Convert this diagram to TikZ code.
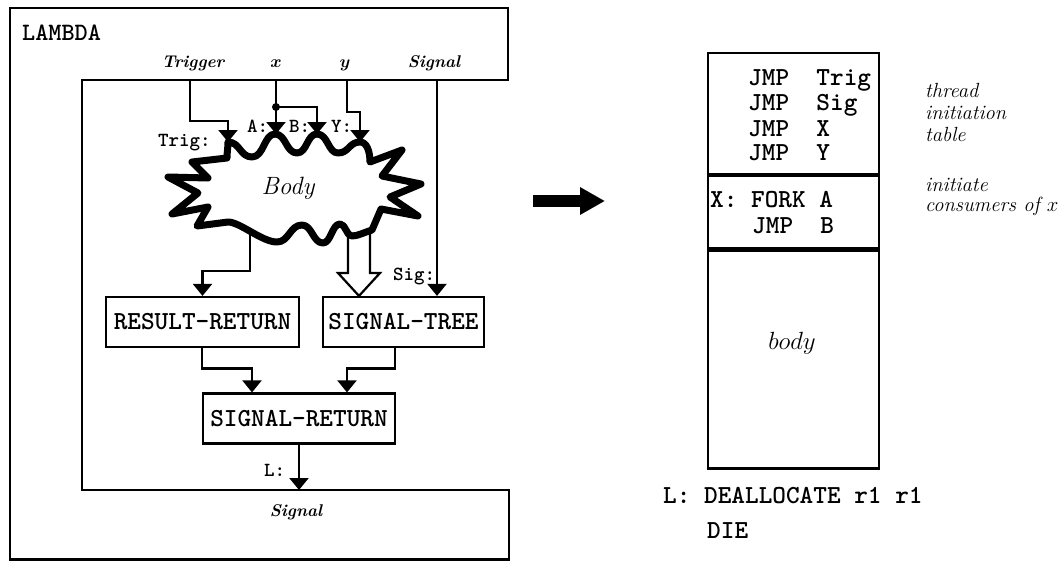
\documentclass[tikz,border=0pt]{standalone}
\usepackage{amsmath}
\usetikzlibrary{arrows.meta,calc}
\tikzset{
  wire/.style={line width=2.2pt},
  arr/.style={wire,-{Triangle[length=12pt,width=19pt]}},
  blk/.style={draw,line width=2.2pt,inner sep=0pt},
  box/.style={blk,minimum width=#1,minimum height=50pt,font=\fontsize{26}{28}\selectfont\ttfamily\bfseries},
  lbl/.style={font=\fontsize{20}{21}\selectfont\ttfamily\bfseries,inner sep=0pt,anchor=base west},
  port/.style={font=\fontsize{17}{19}\selectfont\bfseries\itshape,inner sep=0pt,anchor=base},
  note/.style={font=\fontsize{20.5}{22}\selectfont\itshape,inner sep=0pt,anchor=base west},
  code/.style={font=\fontsize{26}{26}\selectfont\ttfamily\bfseries,inner sep=0pt,anchor=base west},
}
\begin{document}
\begin{tikzpicture}[x=1pt,y=-1pt]
\useasboundingbox (0,0) rectangle (1063,560);
% LAMBDA frame
\draw[line width=2.2pt] (10,8) -- (508,8) -- (508,80) -- (82,80) -- (82,490) -- (509,490) -- (509,559.5) -- (10,559.5) -- cycle;
\node[font=\fontsize{25}{27}\selectfont\ttfamily\bfseries,inner sep=0pt,anchor=base west] (lambda) at (22,40) {LAMBDA};
\node[port] (ptrig) at (193,67) {Trigger};
\node[port] (px) at (276,67) {$\boldsymbol{x}$};
\node[port] (py) at (345,67) {$\boldsymbol{y}$};
\node[port] (psig) at (434,67) {Signal};
\node[port] (psigout) at (296,516) {Signal};
% named points
\coordinate (trigsrc) at (190,80);
\coordinate (xsrc) at (276,80);
\coordinate (ysrc) at (347,80);
\coordinate (sigsrc) at (437,80);
\coordinate (trigtip) at (228,142);
\coordinate (atip) at (276,134);
\coordinate (btip) at (317,134);
\coordinate (ytip) at (360,142);
\coordinate (xdot) at (276,107);
\coordinate (bo1) at (250,233);
\coordinate (bo2) at (348,233);
\coordinate (bo3) at (370,231);
% Body
\draw[line width=7pt,line join=round,fill=white] (228,142)
 .. controls (240,142) and (240,157) .. (252,157)
 .. controls (264,157) and (264,134) .. (275,134)
 .. controls (286,134) and (286,153) .. (297,153)
 .. controls (307,153) and (307,134) .. (317,134)
 .. controls (328,134) and (328,153) .. (338,153)
 .. controls (349,153) and (349,142) .. (360,142)
 .. controls (367,142) and (370,152) .. (370,162)
 -- (402,150) -- (382,176) -- (421,184) -- (390,197) -- (418,216) -- (381,209) -- (372,230)
 .. controls (365,232) and (358,236) .. (352,236)
 .. controls (346,236) and (346,224) .. (340,224)
 .. controls (332,224) and (331,243) .. (323,243)
 .. controls (313,243) and (312,225) .. (302,225)
 .. controls (290,225) and (289,242) .. (277,242)
 .. controls (262,242) and (240,222) .. (228,222)
 -- (197,226) -- (208,207) -- (172,214) -- (198,193) -- (168,177) -- (208,178) -- (192,162) -- (227,158)
 .. controls (227,152) and (228,148) .. cycle;
\node[font=\fontsize{25}{27}\selectfont\itshape,inner sep=0pt] (body) at (288,188) {Body};
% boxes
\node[box=193pt] (rr) at (202.5,322) {RESULT-RETURN};
\node[box=161pt] (st) at (403.5,322) {SIGNAL-TREE};
\node[box=192pt] (sr) at (299,418.5) {SIGNAL-RETURN};
% input wires
\draw[arr] (trigsrc) |- ($(trigtip)+(0,-21)$) -- (trigtip);
\draw[arr] (xsrc) -- (atip);
\draw[arr] (xdot) -| (btip);
\fill (xdot) circle (4pt);
\draw[arr] (ysrc) |- ($(ytip)+(0,-30)$) -- (ytip);
\draw[arr] (sigsrc) -- (sigsrc |- st.north);
% outputs of body
\draw[arr] (bo1) |- ($(rr.north)+(0,-25)$) -- (rr.north);
\coordinate (htip) at (st.north -| 359,0);
\draw[wire,line join=miter] (bo2) -- (348,273) -- (338,273) -- (htip) -- (380,273) -- (370,273) -- (bo3);
% to signal-return
\coordinate (sr1) at (sr.north -| 252,0);
\coordinate (sr2) at (sr.north -| 347,0);
\coordinate (rrout) at (rr.south -| 202,0);
\coordinate (stout) at (st.south -| 395,0);
\draw[arr] (rrout) |- ($(sr1)+(0,-24)$) -- (sr1);
\draw[arr] (stout) |- ($(sr2)+(0,-24)$) -- (sr2);
\coordinate (lend) at (sr.south |- 0,490);
\draw[arr] (sr.south) -- (lend);
% labels
\node[lbl] (ltrig) at (158,146) {Trig:};
\node[lbl] (la) at (247,132) {A:};
\node[lbl] (lb) at (289,132) {B:};
\node[lbl] (ly) at (331,132) {Y:};
\node[lbl] (lsig) at (393,280) {Sig:};
\node[lbl] (ll) at (264,476) {L:};
% big arrow
\coordinate (ar1) at (533,201);
\coordinate (ar2) at (605,201);
\draw[line width=12pt,-{Triangle[length=25pt,width=26pt]}] (ar1) -- (ar2);
% memory block
\node[blk,minimum width=171pt,minimum height=121pt,anchor=north west] (tbl) at (707,52) {};
\node[blk,minimum width=171pt,minimum height=72pt,anchor=north west] (fork) at (tbl.south west) {};
\node[blk,minimum width=171pt,minimum height=218pt,anchor=north west] (mbody) at (fork.south west) {};
\node[code] (c1) at (748,85) {JMP\ \ Trig};
\node[code] (c2) at (748,110) {JMP\ \ Sig};
\node[code] (c3) at (748,136) {JMP\ \ X};
\node[code] (c4) at (748,160) {JMP\ \ Y};
\node[code] (c5) at (710,207) {X:\ FORK\ A};
\node[code] (c6) at (752,233) {JMP\ \ B};
\node[font=\fontsize{24}{26}\selectfont,inner sep=0pt] (bodytxt) at (792,343) {$body$};
\node[code] (c7) at (663,503) {L:\ DEALLOCATE\ r1\ r1};
\node[code] (c8) at (707,538) {DIE};
% notes
\node[note] (n1) at (925,97) {thread};
\node[note] (n2) at (925,119) {initiation};
\node[note] (n3) at (925,141) {table};
\node[note] (n4) at (925,191) {initiate};
\node[note] (n5) at (925,211) {consumers of $x$};
\end{tikzpicture}
\end{document}
